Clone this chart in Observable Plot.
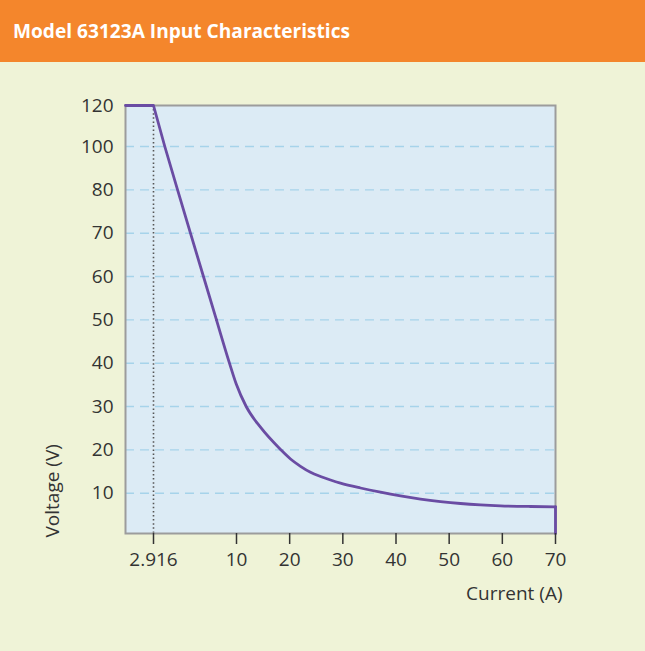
<!DOCTYPE html>
<html><head><meta charset="utf-8">
<script src="https://cdn.jsdelivr.net/npm/d3@7"></script>
<script src="https://cdn.jsdelivr.net/npm/@observablehq/plot@0.6"></script>
<style>
html,body{margin:0;padding:0;background:#eff3d7;}
#wrap{width:645px;height:651px;overflow:hidden;background:#eff3d7;}
#hdr{height:62px;background:#f4862c;color:#fff;font:bold 19px "Open Sans";line-height:62px;padding-left:13px;white-space:nowrap;}
#hdr span{display:inline-block;transform-origin:left center;}
#chart svg{display:block;}
</style></head><body>
<div id="wrap"><div id="hdr"><span id="title">Model 63123A Input Characteristics</span></div><div id="chart"></div></div>
<script>
// Scale breakpoints (axis values)
const xBreaks = [0, 2.916, 10, 70];
const yBreaks = [0, 10, 20, 30, 40, 50, 60, 70, 80, 100, 120];
const xTicks = [2.916, 10, 20, 30, 40, 50, 60, 70];
const yTicks = [10, 20, 30, 40, 50, 60, 70, 80, 100, 120];
const gridValues = [10, 20, 30, 40, 50, 60, 70, 80, 100];
const ratedCurrent = [2.916];

// Characteristic curve
const current = [0, 2.916, 3.88, 4.97, 6.07, 7.18, 8.29, 9.40, 9.97, 11.82, 14.51, 18.28, 20.16, 22.04, 23.92, 25.80, 27.68, 29.56, 33.32, 37.09, 40.85, 44.61, 48.37, 52.13, 55.89, 59.65, 65.30, 70, 70];
const voltage = [120, 120, 100, 80, 70, 60, 50, 40, 35.24, 30, 25.23, 20.1, 17.90, 16.21, 14.83, 13.86, 13.05, 12.33, 11.20, 10.23, 9.33, 8.54, 7.92, 7.44, 7.10, 6.87, 6.70, 6.63, 0];

const pts = current.map((c, i) => ({current: c, voltage: voltage[i], i}));
const last = pts.length - 1;
const straight = pts.filter(p => p.i <= 6);
const curved = pts.filter(p => p.i >= 6 && p.i <= last - 1);
const drop = pts.filter(p => p.i >= last - 1);

const lineColor = "#6a4ca3";

const chart = Plot.plot({
  width: 645,
  height: 589,
  marginLeft: 125,
  marginRight: 90,
  marginTop: 43,
  marginBottom: 118,
  style: {fontFamily: "'Open Sans', sans-serif", fontSize: "19px", color: "#333", background: "transparent", overflow: "visible"},
  x: {type: "linear", domain: xBreaks, range: [125, 153, 236, 555]},
  y: {type: "linear", domain: yBreaks, range: [471, 430.7, 387.4, 344, 300.7, 257.4, 214, 170.7, 127.4, 84, 43]},
  marks: [
    Plot.frame({fill: "#dcebf5"}),
    Plot.ruleY(gridValues, {stroke: "#a6d3ea", strokeDasharray: "9,6", strokeWidth: 1.4}),
    Plot.ruleX(ratedCurrent, {stroke: "#555", strokeDasharray: "1.5,2.6", strokeWidth: 1.6}),
    Plot.frame({stroke: "#9c9c9c", strokeWidth: 2}),
    Plot.line(straight, {x: "current", y: "voltage", stroke: lineColor, strokeWidth: 2.8, curve: "linear"}),
    Plot.line(curved, {x: "current", y: "voltage", stroke: lineColor, strokeWidth: 2.8, curve: "monotone-x"}),
    Plot.line(drop, {x: "current", y: "voltage", stroke: lineColor, strokeWidth: 2.8, curve: "linear"}),
    Plot.axisX({ticks: xTicks, tickFormat: d => String(d), tickSize: 11, tickPadding: 8, fontSize: 19, label: null, stroke: "#333", strokeWidth: 1.5}),
    Plot.axisY({ticks: yTicks, tickFormat: d => String(d), tickSize: 0, tickPadding: 12, fontSize: 19, label: null}),
    Plot.text(["Voltage (V)"], {frameAnchor: "bottom-left", rotate: -90, textAnchor: "start", dx: -67, dy: 4, fontSize: 19, fill: "#333"}),
    Plot.text(["Current (A)"], {frameAnchor: "bottom-right", textAnchor: "end", dx: 7, dy: 66, fontSize: 19, fill: "#333"})
  ]
});
document.getElementById("chart").appendChild(chart);

const t = document.getElementById("title");
const fit = () => { t.style.transform = "none"; const w = t.getBoundingClientRect().width; t.style.transform = `scaleX(${337 / w})`; };
fit();
if (document.fonts && document.fonts.ready) document.fonts.ready.then(fit);
</script>
</body></html>
